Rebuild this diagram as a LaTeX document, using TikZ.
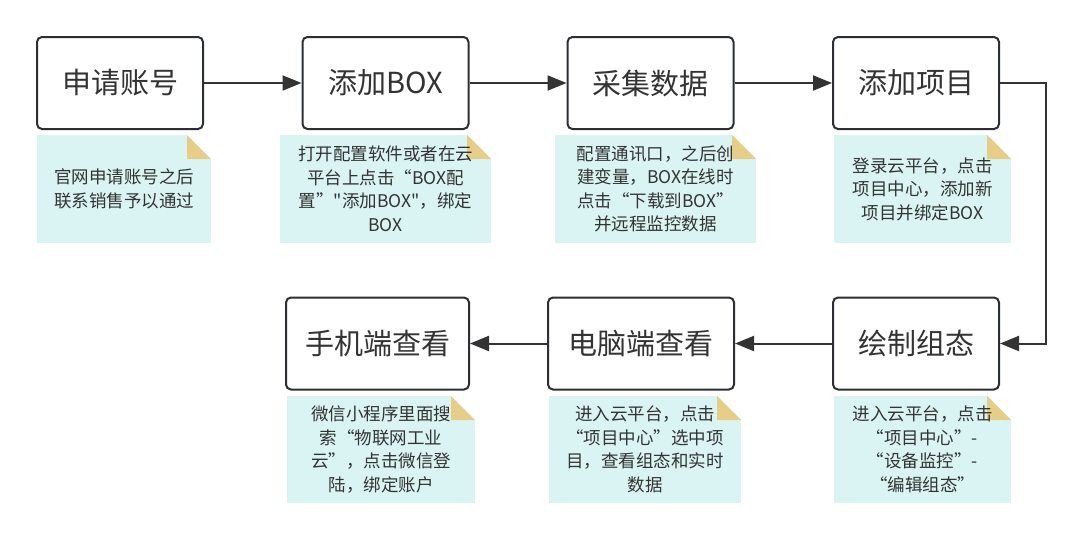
\documentclass[tikz,border=0pt]{standalone}
\usepackage{fontspec}
\setmainfont{Noto Sans CJK SC}
\newfontfamily\cjkplain{Noto Sans CJK SC}
\usetikzlibrary{positioning,arrows.meta}
\definecolor{boxline}{HTML}{2B2F33}
\definecolor{txtgrey}{HTML}{333333}
\definecolor{notecyan}{HTML}{DAF4F3}
\definecolor{foldtan}{HTML}{E6CE88}

\begin{document}
\begin{tikzpicture}[x=1pt, y=-1pt,
  every node/.append style={text=txtgrey},
  stepbox/.style={draw=boxline, line width=2pt, rounded corners=5pt, fill=white,
    minimum width=166pt, minimum height=92pt, inner sep=0pt,
    font=\fontsize{29}{34}\selectfont},
  note/.style={fill=notecyan, minimum width=#1, minimum height=108pt, inner sep=0pt,
    align=center, font=\fontsize{17.5}{23.5}\selectfont,
    path picture={
      \fill[white] (path picture bounding box.north east) -- ++(-24,0) -- ++(24,24) -- cycle;
      \fill[foldtan] ([xshift=-24pt]path picture bounding box.north east) -- ++(0,24) -- ++(24,0) -- cycle;
    }},
  note/.default=176pt,
  flow/.style={draw=txtgrey, line width=2pt, -{Triangle[length=19pt,width=15pt]}}
]
\useasboundingbox (0,0) rectangle (1081,541);

% top row
\node[stepbox] (acct)    at (120,83)   {申请账号};
\node[stepbox] (addbox)  at (385.5,83) {添加BOX};
\node[stepbox] (collect) at (650.5,83) {采集数据};
\node[stepbox] (addproj) at (916,83)   {添加项目};

% bottom row
\node[stepbox] (design) at (916,343.5) {绘制组态};
\node[stepbox, minimum width=186pt] (pcview)    at (641,343.5)   {电脑端查看};
\node[stepbox, minimum width=183pt] (phoneview) at (377.5,343.5) {手机端查看};

% notes
\node[note=174pt] (nacct)    at (124,189)   {官网申请账号之后\\联系销售予以通过};
\node[note=211pt] (naddbox)  at (385.5,189) {打开配置软件或者在云\\平台上点击“BOX配\\置”{\cjkplain"}添加BOX{\cjkplain"}，绑定\\BOX};
\node[note=201pt] (ncollect) at (655.5,189) {配置通讯口，之后创\\建变量，BOX在线时\\点击“下载到BOX”\\并远程监控数据};
\node[note=177pt] (naddproj) at (922.5,189) {登录云平台，点击\\项目中心，添加新\\项目并绑定BOX};
\node[note=177pt, minimum height=107pt] (ndesign) at (922.5,449.5) {进入云平台，点击\\“项目中心”-\\“设备监控”-\\“编辑组态”};
\node[note=192pt, minimum height=107pt] (npcview) at (645,449.5) {进入云平台，点击\\“项目中心”选中项\\目，查看组态和实时\\数据};
\node[note=188pt, minimum height=107pt] (nphoneview) at (381,449.5) {微信小程序里面搜\\索“物联网工业\\云”，点击微信登\\陆，绑定账户};

% connectors
\draw[flow] (acct) -- (addbox);
\draw[flow] (addbox) -- (collect);
\draw[flow] (collect) -- (addproj);
\draw[flow] (addproj.east) -- ++(46,0) |- (design.east);
\draw[flow] (design) -- (pcview);
\draw[flow] (pcview) -- (phoneview);
\end{tikzpicture}
\end{document}
